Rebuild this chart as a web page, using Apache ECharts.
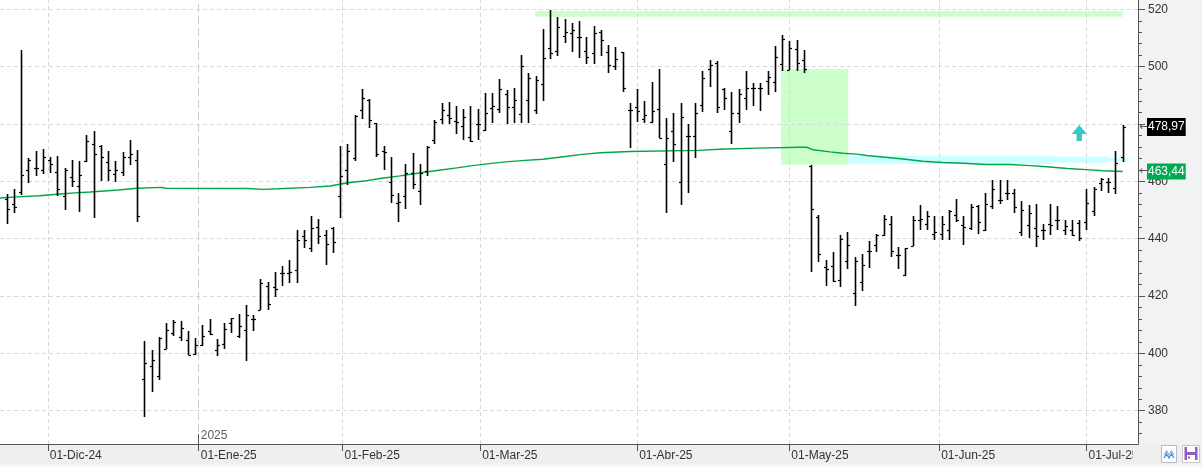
<!DOCTYPE html>
<html>
<head>
<meta charset="utf-8">
<script src="https://cdn.jsdelivr.net/npm/echarts@6/dist/echarts.min.js"></script>
<style>
html,body{margin:0;padding:0;background:#fff;}
#c{width:1202px;height:467px;}
</style>
</head>
<body>
<div id="c"></div>
<script>
// ---------- data ----------
const tradingDays = {
  '2024-11': [21,22,25,26,27,29],
  '2024-12': [2,3,4,5,6,9,10,11,12,13,16,17,18,19,20,23,24,26,27,30,31],
  '2025-01': [2,3,6,7,8,10,13,14,15,16,17,21,22,23,24,27,28,29,30,31],
  '2025-02': [3,4,5,6,7,10,11,12,13,14,18,19,20,21,24,25,26,27,28],
  '2025-03': [3,4,5,6,7,10,11,12,13,14,17,18,19,20,21,24,25,26,27,28,31],
  '2025-04': [1,2,3,4,7,8,9,10,11,14,15,16,17,21,22,23,24,25,28,29,30],
  '2025-05': [1,2,5,6,7,8,9,12,13,14,15,16,19,20,21,22,23,27,28,29,30],
  '2025-06': [2,3,4,5,6,9,10,11,12,13,16,17,18,20,23,24,25,26,27,30],
  '2025-07': [1,2,3,7,8,9]
};
const dates = [];
Object.keys(tradingDays).forEach(m => tradingDays[m].forEach(d => dates.push(m + '-' + String(d).padStart(2,'0'))));

const open = [
454.0,452.0,456.3,464.1,464.8,463.8,467.6,463.1,454.8,461.4,
458.3,467.2,473.2,472.4,466.6,462.5,463.4,468.4,467.3,391.2,
395.7,392.0,401.7,407.2,405.7,404.8,399.7,402.9,407.7,401.3,
403.2,410.7,406.2,408.1,411.9,415.3,423.5,423.0,428.1,428.1,
429.2,441.0,436.8,444.1,441.2,443.9,454.8,464.1,468.0,484.9,
488.3,480.4,470.6,459.8,452.5,454.8,462.8,456.6,463.6,474.4,
481.7,483.1,481.0,479.4,475.5,479.9,477.9,485.7,485.4,490.3,
485.8,483.5,488.3,484.9,493.8,506.4,505.4,510.7,511.8,510.4,
505.4,504.6,512.2,505.2,500.2,505.0,484.9,486.0,481.7,480.6,
485.2,466.0,477.5,459.8,475.8,475.8,486.6,499.2,501.4,492.2,
477.5,483.9,488.9,492.4,492.4,495.0,494.5,500.9,499.0,506.1,
502.3,465.5,447.6,430.2,430.4,425.5,432.1,421.1,424.8,435.6,
437.7,441.2,445.0,434.2,427.5,437.4,446.5,445.1,441.8,441.8,
443.0,448.4,444.7,443.9,451.3,443.0,451.4,453.4,455.8,456.1,
442.2,444.7,443.6,443.2,445.0,446.5,443.0,443.2,445.5,445.9,
449.7,459.5,459.8,457.8,468.6
];
const high = [
455.5,457.5,505.8,468.0,470.5,471.2,468.4,468.8,464.8,467.4,
467.0,476.1,477.5,472.6,470.5,467.0,470.2,474.4,471.1,404.2,
401.3,405.7,410.7,411.5,411.2,407.7,405.2,409.8,411.9,404.9,
410.7,412.5,413.6,416.8,413.5,425.8,425.0,428.3,430.5,432.7,
443.0,443.0,447.9,447.0,443.0,444.1,472.4,473.2,483.1,492.2,
488.7,480.5,472.4,468.6,456.0,466.0,470.0,466.2,472.4,481.4,
487.5,487.7,486.3,485.2,486.3,485.4,490.7,490.7,495.7,491.8,
492.4,504.0,497.9,496.7,513.1,519.8,517.4,516.6,515.3,516.0,
510.4,514.2,512.8,507.5,506.9,505.0,487.2,492.1,488.0,494.7,
499.2,482.2,484.0,487.2,480.0,487.2,498.6,502.3,501.9,492.4,
491.0,492.1,498.5,494.4,494.4,498.6,507.2,511.0,509.0,509.3,
505.8,465.8,448.2,432.5,435.2,441.3,442.4,433.7,434.8,439.1,
441.8,448.2,447.9,437.1,436.6,447.9,451.7,449.7,447.9,447.9,
449.9,454.0,447.9,452.2,451.7,456.0,460.4,460.4,460.4,457.2,
453.1,451.7,452.0,445.1,452.0,451.3,446.5,446.5,446.5,457.3,
457.9,461.2,461.2,470.5,479.6
];
const low = [
445.0,449.0,455.4,459.3,461.9,462.4,462.9,455.0,450.0,458.1,
449.4,466.8,447.3,460.2,460.1,459.8,461.9,465.7,445.9,377.8,
386.5,390.6,401.4,406.1,404.3,399.3,399.5,402.7,406.3,399.1,
401.4,407.1,405.2,397.4,407.7,415.3,415.3,419.5,423.5,424.7,
424.6,436.6,435.4,438.0,431.0,435.0,447.3,458.7,467.1,481.9,
478.7,468.6,463.9,452.5,445.9,450.3,457.3,451.8,461.9,472.9,
479.9,479.9,476.4,474.4,473.6,474.4,477.6,480.4,483.7,479.9,
480.5,480.4,480.4,483.4,488.1,502.5,503.8,508.3,505.0,503.1,
500.9,500.9,503.8,497.9,498.8,491.2,471.5,480.8,480.4,480.4,
475.0,448.8,466.8,451.9,455.8,468.2,484.3,493.0,483.7,484.9,
472.9,480.4,484.9,486.3,484.6,490.1,491.0,498.6,498.8,498.5,
497.9,428.4,431.9,423.5,425.0,423.2,429.6,416.6,421.8,429.8,
435.2,440.9,433.7,429.4,427.0,437.4,443.0,443.0,439.5,439.5,
439.7,445.9,437.7,443.0,441.8,442.6,450.5,452.0,453.4,448.8,
440.9,440.1,437.0,439.7,441.2,443.0,441.2,440.9,439.2,443.0,
447.9,456.7,455.8,455.7,466.8
];
const close = [
450.5,450.9,462.2,467.4,464.5,468.4,466.0,457.2,464.1,460.0,
462.2,474.0,469.7,468.4,464.1,463.9,468.4,469.4,447.8,396.8,
397.6,405.5,408.3,410.9,409.0,399.3,402.8,406.0,406.9,402.8,
408.4,412.4,409.7,413.5,411.9,424.6,417.1,422.4,428.1,428.4,
439.7,439.7,443.9,440.9,438.0,438.8,461.8,470.5,482.9,488.9,
481.4,469.4,470.1,455.2,452.9,462.8,459.2,462.8,472.0,480.8,
484.9,482.0,480.6,482.5,474.1,479.9,483.7,486.4,492.1,485.8,
488.3,500.2,495.9,495.3,502.9,504.6,514.0,512.2,512.8,510.4,
503.2,511.8,509.3,500.6,502.6,492.4,484.9,484.6,483.3,484.5,
475.2,475.2,472.9,482.3,475.9,484.0,496.2,500.6,486.0,489.1,
484.0,490.3,492.4,492.4,492.6,496.5,503.5,509.5,506.4,501.4,
499.2,450.5,434.8,429.6,425.2,439.8,437.7,432.1,431.0,435.6,
441.2,447.0,435.6,434.2,436.6,446.5,447.0,447.9,442.2,445.3,
449.6,446.5,444.0,450.9,445.9,452.0,457.5,453.4,455.8,451.1,
450.0,448.8,440.9,443.2,444.7,446.5,444.3,441.2,440.2,452.5,
457.5,460.7,459.8,466.5,478.97
];
// moving average, read as [bar position, value] at its bends
const maPoints = [
[-0.92,454.2],[1.4,454.6],[4.5,455.0],[7.4,455.6],[9.4,456.0],[11.5,456.3],[15.4,457.0],[18.0,457.6],
[21.4,457.9],[22.0,457.6],[33.3,457.5],[35.4,457.2],[37.5,457.4],[41.9,457.9],[44.6,458.4],[47.1,459.5],
[49.3,460.1],[51.5,461.0],[54.3,461.9],[56.9,462.9],[59.4,463.8],[62.1,464.7],[64.3,465.5],[66.3,466.1],
[68.8,466.8],[71.5,467.3],[74.0,467.7],[76.8,468.6],[79.4,469.4],[81.9,470.0],[86.0,470.4],[95.4,470.8],
[98.4,471.2],[103.4,471.6],[109.5,471.9],[110.4,471.9],[111.3,471.0],[113.6,470.3],[115.4,469.8],[117.3,469.5],
[118.7,469.0],[120.5,468.6],[123.7,467.8],[126.4,467.0],[129.2,466.6],[132.0,466.3],[135.3,465.9],[138.4,465.9],
[141.2,465.5],[143.5,465.1],[146.4,464.5],[149.5,464.0],[151.3,463.7],[154.0,463.44]
];
const lastPrice = 478.97;
const maLast = 463.44;
// month boundaries (in bar units) and their labels
const monthTickPos = [5.667, 26.5, 46.333, 65.333, 87, 108, 128.667, 149];
const monthLabels = ['01-Dic-24','01-Ene-25','01-Feb-25','01-Mar-25','01-Abr-25','01-May-25','01-Jun-25','01-Jul-25'];
const yearLabel = '2025';
const yTicks = [380, 400, 420, 440, 460, 480, 500, 520];
// drawn zones [xFrom, xTo, yFrom, yTo] in data units
const resistanceZone = [72.9, 154.0, 517.43, 519.42];
const gapZone = [106.85, 116.13, 465.81, 499.19];
const supportZones = [[116.13, 144.6, 466.05, 468.95], [144.6, 152.2, 466.5, 468.7], [152.2, 154.9, 467.0, 468.1]];
const signalArrow = [148.0, 476.86];

// ---------- chart ----------
const FONT = "'Liberation Sans', Arial, sans-serif";
const fmt = v => v.toFixed(2).replace('.', ',');
const ohlc = open.map((o, i) => [i, o, high[i], low[i], close[i]]);
const Y_MIN = 368.4, Y_MAX = 523.25;
const yearPos = monthTickPos[1];

function zone(z, color) {
  return [{xAxis: z[0], yAxis: z[2], itemStyle: {color: color, opacity: 1}}, {xAxis: z[1], yAxis: z[3]}];
}
function priceLabel(v, bg, pad) {
  return {
    yAxis: v,
    lineStyle: {color: 'rgba(0,0,0,0)', width: 1},
    label: {
      show: true, position: 'end', distance: 1,
      formatter: '{a|←}{b|' + fmt(v) + '}',
      rich: {
        a: {color: '#555', fontSize: 11, fontFamily: 'DejaVu Sans', width: 8, align: 'left'},
        b: {color: '#fff', backgroundColor: bg, fontSize: 12, fontFamily: FONT, padding: pad, lineHeight: 14}
      }
    }
  };
}

const chart = echarts.init(document.getElementById('c'), null, {renderer: 'canvas', width: 1202, height: 467});
chart.setOption({
  animation: false,
  grid: {left: 0, right: 64, top: 0, bottom: 23, containLabel: false},
  xAxis: {
    type: 'value', min: -0.9245, max: 156.11,
    axisLine: {show: true, onZero: false, lineStyle: {color: '#555', width: 1}},
    axisTick: {show: true, customValues: monthTickPos, length: 7, lineStyle: {color: '#555'}},
    axisLabel: {
      show: true, customValues: monthTickPos,
      formatter: v => { const k = monthTickPos.findIndex(p => Math.abs(p - v) < 1e-3); return k >= 0 ? monthLabels[k] : ''; },
      align: 'left', padding: [0, 0, 0, 2], color: '#333', fontSize: 12, fontFamily: FONT, margin: 6
    },
    splitLine: {show: false}
  },
  yAxis: {
    type: 'value', position: 'right', min: Y_MIN, max: Y_MAX, splitNumber: 8,
    axisLine: {show: true, onZero: false, lineStyle: {color: '#555', width: 1}},
    axisTick: {show: true, customValues: yTicks, length: 7, lineStyle: {color: '#555'}},
    minorTick: {show: true, splitNumber: 5, length: 4, lineStyle: {color: '#555'}},
    axisLabel: {show: true, customValues: yTicks, color: '#333', fontSize: 12, fontFamily: FONT, margin: 10},
    splitLine: {show: true, lineStyle: {color: '#d9d9d9', type: [4, 3], width: 1}}
  },
  graphic: [
    {type: 'rect', z: -100, shape: {x: 1138, y: 0, width: 64, height: 445}, style: {fill: '#f1f2f4'}},
    {type: 'rect', z: -100, shape: {x: 0, y: 444, width: 1202, height: 23}, style: {fill: '#efefef'}},
    {type: 'rect', z: -99, shape: {x: 0, y: 464, width: 1202, height: 3}, style: {fill: '#f7f7f7'}},
    {type: 'rect', z: 100, shape: {x: 1133, y: 445, width: 69, height: 19}, style: {fill: '#efefef'}},
    {type: 'rect', z: 100, shape: {x: 1133, y: 464, width: 69, height: 3}, style: {fill: '#f7f7f7'}},
    {type: 'rect', z: 101, shape: {x: 1161.5, y: 445.5, width: 15, height: 17}, style: {fill: '#fff', stroke: '#b4bccb', lineWidth: 1}},
    {type: 'polyline', z: 102, shape: {points: [[1164, 455], [1166.5, 451], [1169, 455], [1171.5, 451], [1174, 455]]}, style: {stroke: '#8ab8e6', lineWidth: 1.3, fill: null}},
    {type: 'polyline', z: 102, shape: {points: [[1164, 458], [1166.5, 454], [1169, 458], [1171.5, 454], [1174, 458]]}, style: {stroke: '#4d8fd6', lineWidth: 1.3, fill: null}},
    {type: 'rect', z: 101, shape: {x: 1182.5, y: 445.5, width: 17, height: 17}, style: {fill: '#fff', stroke: '#c8c8c8', lineWidth: 1}},
    {type: 'rect', z: 102, shape: {x: 1184.5, y: 447, width: 13, height: 13}, style: {fill: '#8e5cc6'}},
    {type: 'rect', z: 103, shape: {x: 1187, y: 447, width: 8, height: 5}, style: {fill: '#ffffff'}},
    {type: 'rect', z: 103, shape: {x: 1187, y: 455, width: 8, height: 5}, style: {fill: '#ffffff'}},
    {type: 'rect', z: 104, shape: {x: 1188, y: 456.5, width: 2, height: 2}, style: {fill: '#8e5cc6'}}
  ],
  series: [
    {
      name: 'zones', type: 'line', data: [], z: -1, clip: false, silent: true,
      markArea: {
        silent: true, z: -1,
        data: [
          zone(resistanceZone, '#ccffcc'),
          zone(gapZone, '#ccffcc'),
          ...supportZones.map(z => zone(z, '#ccffff'))
        ]
      }
    },
    {
      name: 'vgrid', type: 'line', data: [], z: 1, clip: false, silent: true,
      markLine: {
        silent: true, z: 1, symbol: 'none', label: {show: false}, animation: false,
        data: monthTickPos.map((p, i) => ({
          xAxis: p,
          lineStyle: i === 1 ? {color: '#cfcfcf', type: [8, 4], width: 1} : {color: '#d9d9d9', type: [4, 3], width: 1}
        })).concat([[
          {coord: [yearPos, Y_MIN], lineStyle: {color: '#555', type: 'solid', width: 1}},
          {coord: [yearPos, 371.87]}
        ]])
      }
    },
    {
      name: 'MA', type: 'line', data: maPoints, showSymbol: false, z: 3, silent: true,
      lineStyle: {color: '#00a74a', width: 1.4}
    },
    {
      name: 'OHLC', type: 'custom', z: 4, data: ohlc, silent: true,
      encode: {x: 0, y: [1, 2, 3, 4]},
      renderItem: function (params, api) {
        const i = api.value(0);
        const pH = api.coord([i, api.value(2)]);
        const pL = api.coord([i, api.value(3)]);
        const pO = api.coord([i, api.value(1)]);
        const pC = api.coord([i, api.value(4)]);
        const x = Math.round(pH[0]) + 0.5;
        const yo = Math.round(pO[1]) + 0.5, yc = Math.round(pC[1]) + 0.5;
        return {
          type: 'group',
          children: [
            {type: 'line', shape: {x1: x, y1: Math.round(pH[1]), x2: x, y2: Math.round(pL[1])}, style: {stroke: '#000', lineWidth: 1.6}},
            {type: 'line', shape: {x1: x - 2.5, y1: yo, x2: x, y2: yo}, style: {stroke: '#000', lineWidth: 1.2}},
            {type: 'line', shape: {x1: x, y1: yc, x2: x + 2.5, y2: yc}, style: {stroke: '#000', lineWidth: 1.2}}
          ]
        };
      }
    },
    {
      name: 'signal', type: 'scatter', z: 5, silent: true,
      data: [signalArrow],
      symbol: 'path://M7,0 L14,9 L9.5,9 L9.5,16 L4.5,16 L4.5,9 L0,9 Z',
      symbolSize: [15, 16],
      itemStyle: {color: '#33c9c9', opacity: 1}
    },
    {
      name: 'year', type: 'scatter', z: 5, silent: true,
      data: [[yearPos, 371.16]], symbolSize: 0,
      label: {show: true, position: 'right', distance: 2, formatter: yearLabel, color: '#333', fontSize: 12, fontFamily: FONT}
    },
    {
      name: 'priceLabels', type: 'line', data: [], z: 10, clip: false, silent: true,
      markLine: {
        silent: true, z: 10, symbol: 'none', animation: false,
        data: [
          priceLabel(lastPrice, '#000', [3, 1, 3, 1]),
          priceLabel(maLast, '#00aa4f', [2, 1, 2, 1])
        ]
      }
    }
  ]
});
</script>
</body>
</html>
